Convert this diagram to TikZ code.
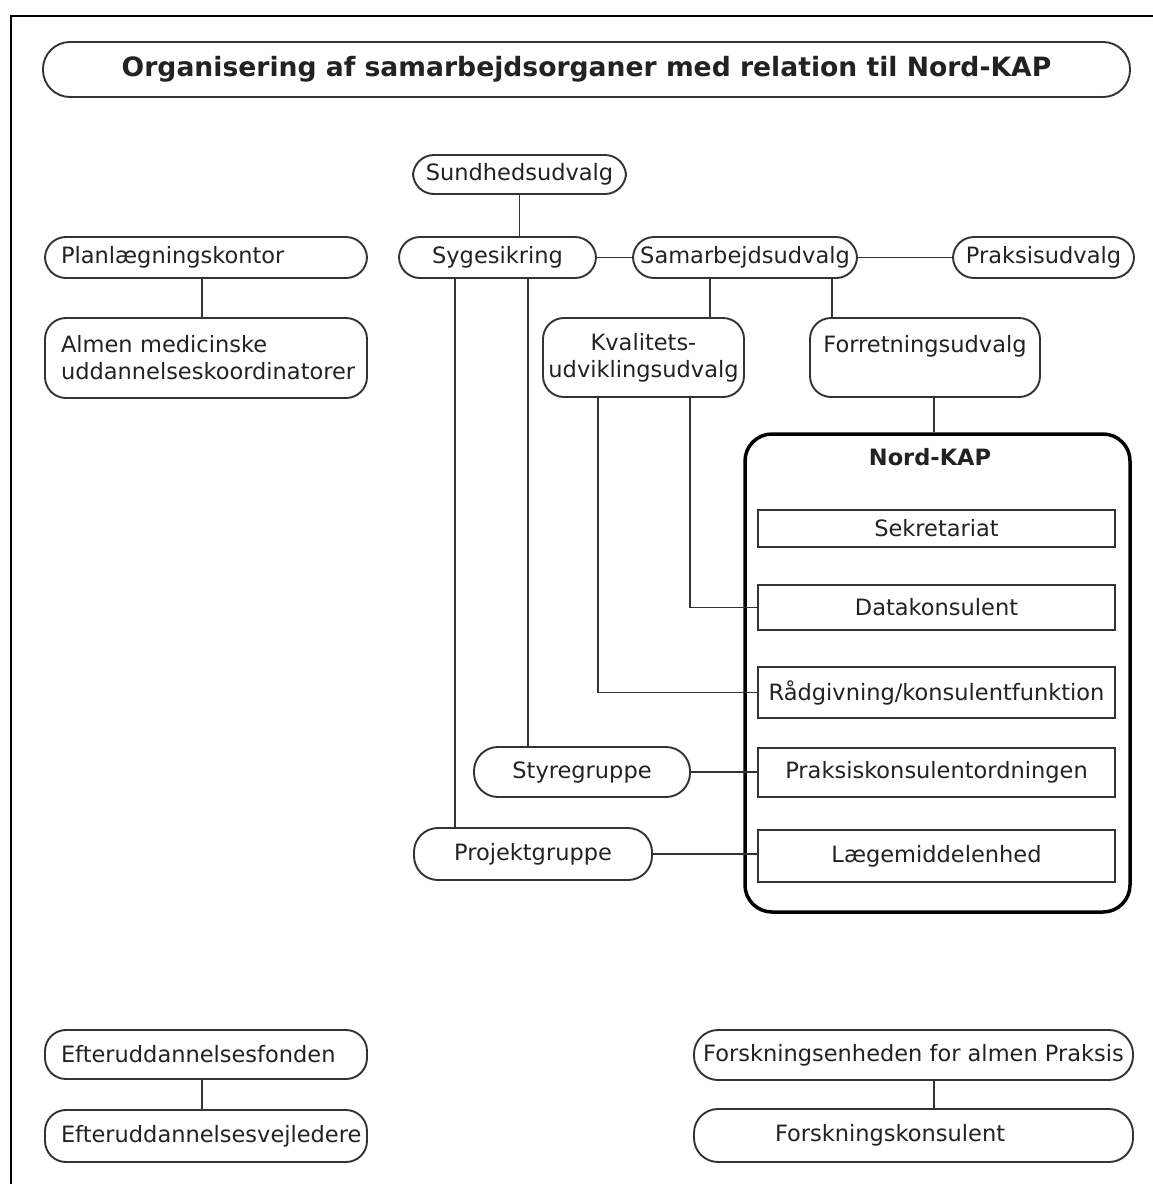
\documentclass[tikz,border=0pt]{standalone}
\usepackage{fontspec}
\setmainfont{DejaVu Sans}
\definecolor{linec}{HTML}{333333}
\definecolor{textc}{HTML}{222222}
\begin{document}
\begin{tikzpicture}[x=1pt,y=-1pt,
  every node/.style={font=\fontsize{22.5}{27}\selectfont, text=textc, inner sep=0pt},
  box/.style={draw=linec, line width=1.9pt, rounded corners=21pt, fill=white, align=center},
  lbox/.style={box, align=left, text width=290pt, inner xsep=16pt, minimum width=322pt},
  rectbox/.style={draw=linec, line width=1.9pt, fill=white, minimum width=357pt},
  bigbox/.style={draw=black, line width=3.5pt, rounded corners=27pt, minimum width=385pt, minimum height=478pt},
  conn/.style={draw=linec, line width=1.9pt}]
\useasboundingbox (0,0) rectangle (1153,1184);
\fill[white] (0,0) rectangle (1153,1184);
% frame
\draw[line width=2pt, black] (10.7,1184) -- (10.7,15.7) -- (1153,15.7);

% title
\node[box, minimum width=1087pt, minimum height=55pt, rounded corners=27pt,
      font=\bfseries\fontsize{26.6}{30}\selectfont] (title) at (586.5,69.5)
      {Organisering af samarbejdsorganer med relation til Nord-KAP};

% top row
\node[box, minimum width=213pt, minimum height=39pt] (sund) at (519.5,174.5) {Sundhedsudvalg};
\node[box, minimum width=197pt, minimum height=41pt] (syg) at (497.5,257.5) {Sygesikring};
\node[box, minimum width=224pt, minimum height=41pt] (sam) at (745,257.5) {Samarbejdsudvalg};
\node[box, minimum width=181pt, minimum height=41pt] (praks) at (1043.5,257.5) {Praksisudvalg};
\node[lbox, minimum height=41pt] (plan) at (206,257.5) {Planlægningskontor};
\node[lbox, minimum height=80pt] (almen) at (206,358) {Almen medicinske\\uddannelseskoordinatorer};
\node[box, minimum width=201pt, minimum height=79pt] (kval) at (643.5,357.5) {Kvalitets-\\udviklingsudvalg};
\node[box, minimum width=230pt, minimum height=79pt] (forr) at (925,357.5) {Forretningsudvalg\\\mbox{}};

% Nord-KAP
\node[bigbox] (nk) at (937.5,673) {};
\node[font=\bfseries\fontsize{22.5}{27}\selectfont] (nkt) at (930,457) {Nord-KAP};
\node[rectbox, minimum height=37pt] (sek) at (936.5,528.5) {Sekretariat};
\node[rectbox, minimum height=45pt] (data) at (936.5,607.5) {Datakonsulent};
\node[rectbox, minimum height=51pt] (rad) at (936.5,692.5) {Rådgivning/konsulentfunktion};
\node[rectbox, minimum height=49pt] (praksk) at (936.5,772.5) {Praksiskonsulentordningen};
\node[rectbox, minimum height=52pt] (lmid) at (936.5,856) {Lægemiddelenhed};

\node[box, minimum width=216pt, minimum height=50pt, rounded corners=24pt] (styr) at (582,772) {Styregruppe};
\node[box, minimum width=238pt, minimum height=52pt, rounded corners=24pt] (proj) at (533,854) {Projektgruppe};

% bottom
\node[lbox, minimum height=49pt] (efond) at (206,1054.5) {Efteruddannelsesfonden};
\node[lbox, minimum height=52pt] (evejl) at (206,1136) {Efteruddannelsesvejledere};
\node[box, minimum width=439pt, minimum height=50pt, rounded corners=24pt] (fenh) at (913.5,1055) {Forskningsenheden for almen Praksis};
\node[box, minimum width=439pt, minimum height=53pt, rounded corners=24pt, align=left, text width=277pt, inner xsep=81pt] (fkons) at (913.5,1135.5) {Forskningskonsulent};

% helper x positions
\coordinate (cA) at (202,0);
\coordinate (cB) at (710,0);
\coordinate (cC) at (832,0);
\coordinate (cD) at (934,0);
\coordinate (cE) at (455,0);
\coordinate (cF) at (528,0);
\coordinate (cG) at (598,0);
\coordinate (cH) at (690,0);

% connectors
\draw[conn] (sund.south) -- (sund.south |- syg.north);
\draw[conn] (syg.east) -- (sam.west);
\draw[conn] (sam.east) -- (praks.west);
\draw[conn] (plan.south -| cA) -- (almen.north -| cA);
\draw[conn] (sam.south -| cB) -- (kval.north -| cB);
\draw[conn] (sam.south -| cC) -- (forr.north -| cC);
\draw[conn] (forr.south -| cD) -- (nk.north -| cD);
\draw[conn] (syg.south -| cE) -- (proj.north -| cE);
\draw[conn] (syg.south -| cF) -- (styr.north -| cF);
\draw[conn] (kval.south -| cG) |- (rad.west);
\draw[conn] (kval.south -| cH) |- (data.west);
\draw[conn] (styr.east) -- (styr.east -| praksk.west);
\draw[conn] (proj.east) -- (proj.east -| lmid.west);
\draw[conn] (efond.south -| cA) -- (evejl.north -| cA);
\draw[conn] (fenh.south -| cD) -- (fkons.north -| cD);
\end{tikzpicture}
\end{document}
